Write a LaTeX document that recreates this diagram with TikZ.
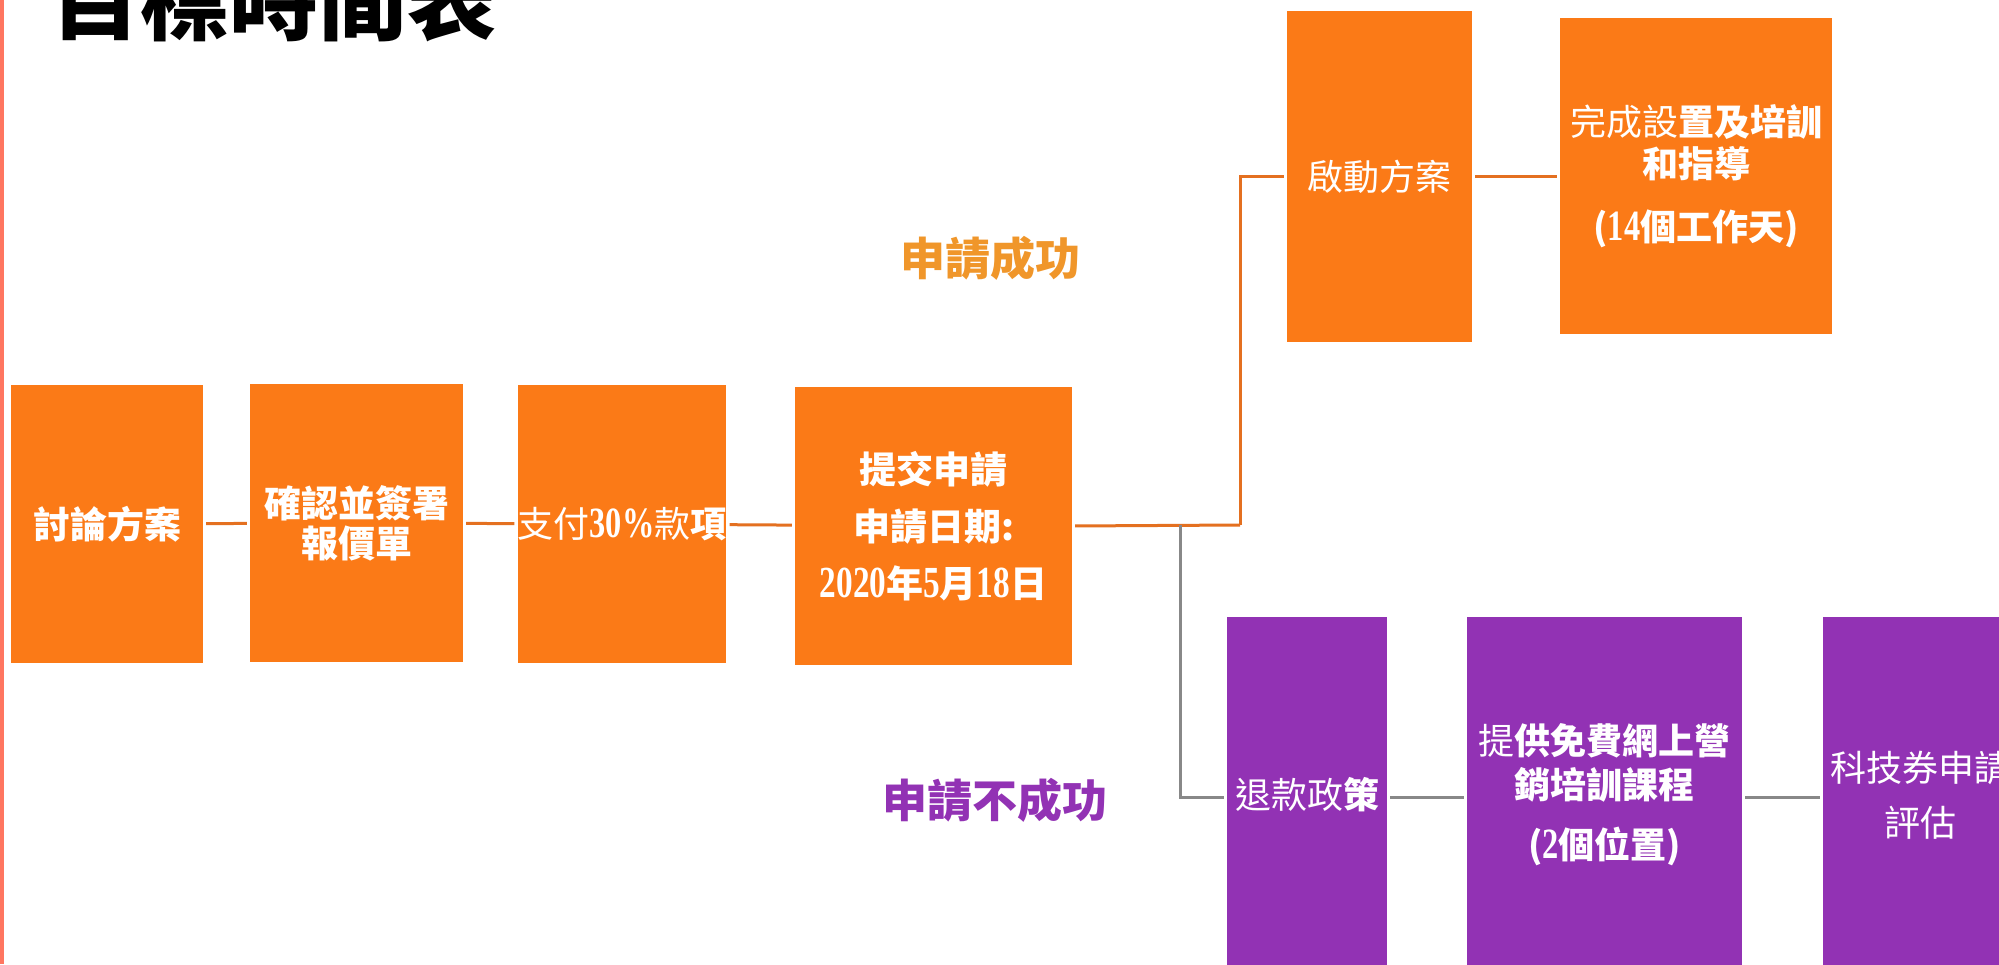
\documentclass[tikz,border=0pt]{standalone}
\usepackage{fontspec}
\setmainfont{Noto Sans CJK TC}
\newfontfamily\digitfont{Liberation Serif Bold}[FakeStretch=0.75]
\makeatletter
\newcommand\dg[1]{{\digitfont\fontsize{\dimexpr\f@size pt*6/5\relax}{\f@baselineskip}\selectfont #1}}
\makeatother
\definecolor{boxorange}{RGB}{251,122,23}
\definecolor{boxpurple}{RGB}{146,50,180}
\definecolor{succtext}{RGB}{240,150,42}
\definecolor{failtext}{RGB}{146,50,180}
\definecolor{lineorange}{RGB}{228,112,32}
\definecolor{linegrey}{RGB}{136,136,136}
\definecolor{edgesalmon}{RGB}{255,118,96}
\tikzset{
  stagebox/.style={rectangle, inner sep=0pt, text=white, align=center,
    font=\fontsize{37}{42}\selectfont},
  okbox/.style={stagebox, fill=boxorange},
  failbox/.style={stagebox, fill=boxpurple},
  okline/.style={draw=lineorange, line width=3pt, shorten <=3pt, shorten >=3pt},
  failline/.style={draw=linegrey, line width=3pt, shorten <=3pt, shorten >=3pt},
  branchlabel/.style={inner sep=0pt, font=\fontsize{45}{50}\selectfont\bfseries},
}
\begin{document}
\begin{tikzpicture}[x=1pt,y=-1pt]
\useasboundingbox (0,0) rectangle (1999,964);
\clip (0,0) rectangle (1999,964);
\fill[white] (0,0) rectangle (1999,964);
\fill[edgesalmon] (0,0) rectangle (4,964);

\node[anchor=base, inner sep=0pt, font=\fontsize{89}{90}\selectfont\bfseries] (title) at (274,33) {目標時間表};

\node[okbox, minimum width=192pt, minimum height=278pt] (b1) at (107,524) {\bfseries 討論方案};
\node[okbox, minimum width=213pt, minimum height=278pt, font=\fontsize{37}{40}\selectfont] (b2) at (356.5,523) {\bfseries 確認並簽署\\\bfseries 報價單};
\node[okbox, minimum width=208pt, minimum height=278pt, font=\fontsize{36}{40}\selectfont] (b3) at (622,524) {支付\dg{30\%}款{\bfseries 項}};
\node[okbox, minimum width=277pt, minimum height=278pt, font=\fontsize{37}{57}\selectfont] (b4) at (933.5,526) {\bfseries 提交申請\\\bfseries 申請日期:\\\dg{2020}\bfseries 年\dg{5}月\dg{18}日};
\node[okbox, minimum width=185pt, minimum height=331pt, font=\fontsize{36}{42}\selectfont] (b5) at (1379.5,176.5) {啟動方案};
\node[okbox, minimum width=272pt, minimum height=316pt, font=\fontsize{36}{42}\selectfont] (b6) at (1696,176) {完成設{\bfseries 置及培訓}\\{\bfseries 和指導}\\[21pt]{\bfseries (\dg{14}個工作天)}};

\node[failbox, minimum width=160pt, minimum height=356pt, font=\fontsize{36}{42}\selectfont] (b7) at (1307,795) {退款政{\bfseries 策}};
\node[failbox, minimum width=275pt, minimum height=356pt, font=\fontsize{36}{44}\selectfont] (b8) at (1604.5,795) {提{\bfseries 供免費網上營}\\{\bfseries 銷培訓課程}\\[16pt]{\bfseries (\dg{2}個位置)}};
\node[failbox, minimum width=194pt, minimum height=356pt, font=\fontsize{36}{55}\selectfont] (b9) at (1920,795) {科技券申請\\評估};

\node[branchlabel, text=succtext] (ok) at (990,258) {申請成功};
\node[branchlabel, text=failtext] (fail) at (995,800) {申請不成功};

\coordinate (j1) at (1240,525);
\coordinate (j2) at (1180,525);

\draw[okline] (b1) -- (b2);
\draw[okline] (b2) -- (b3);
\draw[okline] (b3) -- (b4);
\draw[okline, shorten >=0pt] (b4.east) -- (j1);
\draw[okline, shorten <=0pt] (j1) |- (b5.west);
\draw[okline] (b5) -- (b5 -| b6.west);
\draw[failline, shorten <=0pt] (j2) |- ([yshift=-2pt]b7.west);
\draw[failline] ([yshift=-2pt]b7.east) -- ([yshift=-2pt]b8.west);
\draw[failline] ([yshift=-2pt]b8.east) -- ([yshift=-2pt]b9.west);
\end{tikzpicture}
\end{document}
